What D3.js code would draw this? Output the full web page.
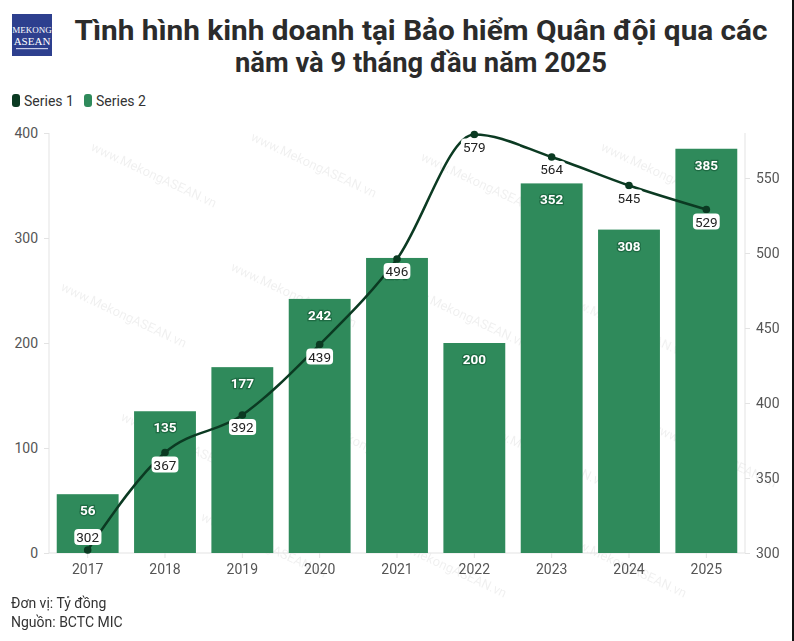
<!DOCTYPE html>
<html><head><meta charset="utf-8">
<script src="https://cdn.jsdelivr.net/npm/d3@7"></script>
<style>body{margin:0;background:#fff;}svg{display:block;font-family:Roboto,"Noto Sans",sans-serif;}</style>
</head><body>
<svg id="chart" width="794" height="641"></svg>
<script>
const years = ["2017","2018","2019","2020","2021","2022","2023","2024","2025"];
const series1 = [302,367,392,439,496,579,564,545,529];
const series2 = [56,135,177,242,281,200,352,308,385];
const leftTicks = [0,100,200,300,400];
const rightTicks = [300,350,400,450,500,550];
const legendNames = ["Series 1","Series 2"];

const svg = d3.select("#chart");
const W=794,H=641;
const L=49,R=745,T=133,B=553;
const lineColor="#0b3a22", barColor="#2f8a5b";

// watermarks
const wm = svg.append("g").attr("fill","#000").attr("opacity",0.06).attr("font-size",13);
[[90,150],[250,140],[420,160],[600,150],[60,290],[230,270],[400,290],[560,300],[120,420],[300,420],[480,430],[650,430],[200,520],[380,540],[560,540]].forEach(p=>{
  wm.append("text").attr("transform",`translate(${p[0]},${p[1]}) rotate(25)`).text("www.MekongASEAN.vn");
});

// logo
svg.append("rect").attr("x",12).attr("y",14).attr("width",40).attr("height",42).attr("fill","#2d3f8e");
svg.append("text").attr("x",32).attr("y",33).attr("text-anchor","middle").attr("fill","#fff").attr("font-family","Liberation Serif,serif").attr("font-size",9).text("MEKONG");
svg.append("text").attr("x",32).attr("y",45).attr("text-anchor","middle").attr("fill","#fff").attr("font-family","Liberation Serif,serif").attr("font-size",11).text("ASEAN");
svg.append("rect").attr("x",16).attr("y",48).attr("width",32).attr("height",1.2).attr("fill","#c9cde6");

// title
const t1 = svg.append("text").attr("x",421).attr("y",40).attr("text-anchor","middle").attr("font-size",28).attr("font-weight",700).attr("fill","#2b2b2b").text("Tình hình kinh doanh tại Bảo hiểm Quân đội qua các");
const t2 = svg.append("text").attr("x",421).attr("y",72).attr("text-anchor","middle").attr("font-size",28).attr("font-weight",700).attr("fill","#2b2b2b").text("năm và 9 tháng đầu năm 2025");
[[t1,693],[t2,372]].forEach(([t,w])=>{const bw=t.node().getComputedTextLength(); if(Math.abs(bw-w)>4) t.attr("textLength",w).attr("lengthAdjust","spacingAndGlyphs");});

// legend
const lg = svg.append("g").attr("font-size",14).attr("fill","#333");
[[12,lineColor,legendNames[0]],[84,barColor,legendNames[1]]].forEach(([x,c,n])=>{
  lg.append("rect").attr("x",x).attr("y",94).attr("width",8).attr("height",13).attr("rx",3).attr("fill",c);
  lg.append("text").attr("x",x+12).attr("y",106).text(n);
});

const x = d3.scaleBand().domain(years).range([L,R]).paddingInner(0.2).paddingOuter(0.1);
const yL = d3.scaleLinear().domain([0,400]).range([B,T]);
const yR = d3.scaleLinear().domain([300,580]).range([B,T]);

// axes
const axL = svg.append("g").attr("transform",`translate(${L},0)`).call(d3.axisLeft(yL).tickValues(leftTicks).tickSize(5).tickPadding(6));
const axR = svg.append("g").attr("transform",`translate(${R},0)`).call(d3.axisRight(yR).tickValues(rightTicks).tickSize(5).tickPadding(6));
const axB = svg.append("g").attr("transform",`translate(0,${B})`).call(d3.axisBottom(x).tickSize(5).tickPadding(6));
[axL,axR,axB].forEach(a=>{
  a.selectAll("path,line").attr("stroke","#e3e3e3");
  a.selectAll("text").attr("font-size",14).attr("fill","#555").attr("font-family","Roboto,sans-serif");
});
axL.select("path").attr("d",`M0,${T}V${B}`);
axR.select("path").attr("d",`M0,${T}V${B}`);
axB.select("path").attr("d",`M${L},0H${R}`);

// bars
svg.append("g").selectAll("rect").data(series2).join("rect")
  .attr("x",(d,i)=>x(years[i])).attr("width",x.bandwidth())
  .attr("y",d=>yL(d)).attr("height",d=>B-yL(d)).attr("fill",barColor);

// bar labels
svg.append("g").selectAll("text").data(series2).join("text")
  .attr("x",(d,i)=>x(years[i])+x.bandwidth()/2).attr("y",d=>yL(d)+21)
  .attr("text-anchor","middle").attr("font-size",13.5).attr("font-weight",700)
  .attr("fill","#fff").attr("stroke","#1e6b43").attr("stroke-width",2.5).attr("paint-order","stroke")
  .text(d=>d);

// line
const cx = i => x(years[i])+x.bandwidth()/2;
svg.append("path").datum(series1).attr("fill","none").attr("stroke",lineColor).attr("stroke-width",2.5)
  .attr("d",d3.line().x((d,i)=>cx(i)).y(d=>yR(d)).curve(d3.curveMonotoneX));
svg.append("g").selectAll("circle").data(series1).join("circle")
  .attr("cx",(d,i)=>cx(i)).attr("cy",d=>yR(d)).attr("r",3.8).attr("fill",lineColor);

// line labels with white boxes
const lblG = svg.append("g");
series1.forEach((d,i)=>{
  const g = lblG.append("g");
  const dy = i===0 ? -8 : 17;
  const tx = g.append("text").attr("x",cx(i)).attr("y",yR(d)+dy).attr("text-anchor","middle")
    .attr("font-size",13.5).attr("fill","#222").text(d);
  const bb = tx.node().getBBox();
  g.insert("rect","text").attr("x",bb.x-2).attr("y",bb.y).attr("width",bb.width+4).attr("height",bb.height)
    .attr("rx",4).attr("fill","#fff");
});

// footer
svg.append("text").attr("x",11).attr("y",608).attr("font-size",14).attr("fill","#333").text("Đơn vị: Tỷ đồng");
svg.append("text").attr("x",11).attr("y",627).attr("font-size",14).attr("fill","#333").text("Nguồn: BCTC MIC");

// right border
svg.append("rect").attr("x",792).attr("y",0).attr("width",2).attr("height",H).attr("fill","#111");
</script>
</body></html>
